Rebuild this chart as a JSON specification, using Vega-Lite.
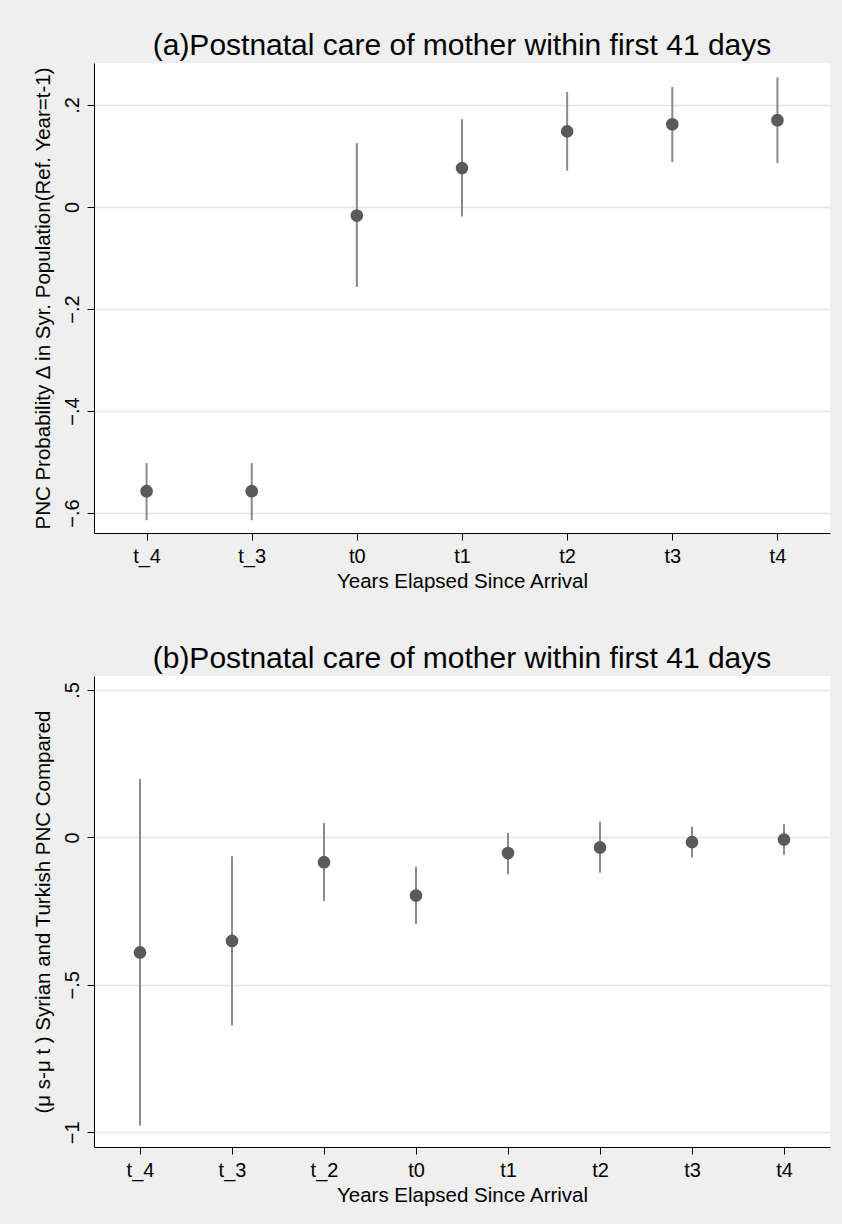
{
  "$schema": "https://vega.github.io/schema/vega-lite/v6.json",
  "background": "#efefef",
  "padding": {"left": 33, "top": 31, "right": 13, "bottom": 20},
  "spacing": 52,
  "config": {
    "font": "Liberation Sans",
    "view": {"fill": "white", "stroke": null},
    "title": {"fontSize": 30, "fontWeight": "normal", "color": "black", "anchor": "middle", "frame": "group", "offset": 2},
    "axis": {
      "domainColor": "black", "domainWidth": 1, "tickColor": "black", "tickWidth": 1, "tickSize": 7,
      "labelFont": "Liberation Sans", "labelFontSize": 20, "labelColor": "black",
      "titleFont": "Liberation Sans", "titleFontSize": 20.5, "titleFontWeight": "normal", "titleColor": "black"
    },
    "axisX": {"grid": false, "labelPadding": 6, "titlePadding": 5, "labelAngle": 0},
    "axisY": {"grid": true, "gridColor": "#e4e4e4", "gridWidth": 1.5, "labelAngle": -90, "labelAlign": "center", "labelBaseline": "bottom", "labelPadding": 5, "titlePadding": 9}
  },
  "datasets": {
    "a": [
      {"period": "t_4", "est": -0.557, "lo": -0.614, "hi": -0.502},
      {"period": "t_3", "est": -0.557, "lo": -0.614, "hi": -0.502},
      {"period": "t0", "est": -0.017, "lo": -0.157, "hi": 0.125},
      {"period": "t1", "est": 0.076, "lo": -0.019, "hi": 0.172},
      {"period": "t2", "est": 0.148, "lo": 0.071, "hi": 0.225},
      {"period": "t3", "est": 0.162, "lo": 0.088, "hi": 0.235},
      {"period": "t4", "est": 0.170, "lo": 0.086, "hi": 0.254}
    ],
    "b": [
      {"period": "t_4", "est": -0.390, "lo": -0.978, "hi": 0.198},
      {"period": "t_3", "est": -0.351, "lo": -0.638, "hi": -0.064},
      {"period": "t_2", "est": -0.084, "lo": -0.216, "hi": 0.049},
      {"period": "t0", "est": -0.197, "lo": -0.294, "hi": -0.100},
      {"period": "t1", "est": -0.053, "lo": -0.125, "hi": 0.015},
      {"period": "t2", "est": -0.034, "lo": -0.120, "hi": 0.053},
      {"period": "t3", "est": -0.016, "lo": -0.068, "hi": 0.036},
      {"period": "t4", "est": -0.007, "lo": -0.059, "hi": 0.045}
    ]
  },
  "vconcat": [
    {
      "title": "(a)Postnatal care of mother within first 41 days",
      "width": 736, "height": 470,
      "data": {"name": "a"},
      "encoding": {
        "x": {"field": "period", "type": "ordinal", "sort": ["t_4", "t_3", "t0", "t1", "t2", "t3", "t4"],
              "scale": {"type": "point", "padding": 0.5}, "title": "Years Elapsed Since Arrival"}
      },
      "layer": [
        {
          "mark": {"type": "rule", "color": "#8a8a8a", "strokeWidth": 2},
          "encoding": {
            "y": {"field": "lo", "type": "quantitative", "scale": {"domain": [-0.639, 0.282], "nice": false, "zero": false},
                  "axis": {"values": [-0.6, -0.4, -0.2, 0, 0.2], "labelExpr": "replace(format(datum.value, '.1~f'), '0.', '.')"},
                  "title": "PNC Probability Δ in Syr. Population(Ref. Year=t-1)"},
            "y2": {"field": "hi"}
          }
        },
        {
          "mark": {"type": "rule", "color": "#4a4a4a", "strokeWidth": 1.5},
          "encoding": {"y": {"datum": 0}}
        },
        {
          "mark": {"type": "point", "filled": true, "color": "#5a5a5a", "opacity": 1, "size": 160},
          "encoding": {"y": {"field": "est", "type": "quantitative"}}
        }
      ]
    },
    {
      "title": "(b)Postnatal care of mother within first 41 days",
      "width": 736, "height": 471,
      "data": {"name": "b"},
      "encoding": {
        "x": {"field": "period", "type": "ordinal", "sort": ["t_4", "t_3", "t_2", "t0", "t1", "t2", "t3", "t4"],
              "scale": {"type": "point", "padding": 0.5}, "title": "Years Elapsed Since Arrival"}
      },
      "layer": [
        {
          "mark": {"type": "rule", "color": "#8a8a8a", "strokeWidth": 2},
          "encoding": {
            "y": {"field": "lo", "type": "quantitative", "scale": {"domain": [-1.05, 0.5475], "nice": false, "zero": false},
                  "axis": {"values": [-1, -0.5, 0, 0.5], "labelExpr": "replace(format(datum.value, '.1~f'), '0.', '.')"},
                  "title": "(μ s-μ t ) Syrian and Turkish PNC Compared"},
            "y2": {"field": "hi"}
          }
        },
        {
          "mark": {"type": "rule", "color": "#4a4a4a", "strokeWidth": 1.5},
          "encoding": {"y": {"datum": 0}}
        },
        {
          "mark": {"type": "point", "filled": true, "color": "#5a5a5a", "opacity": 1, "size": 160},
          "encoding": {"y": {"field": "est", "type": "quantitative"}}
        }
      ]
    }
  ]
}
